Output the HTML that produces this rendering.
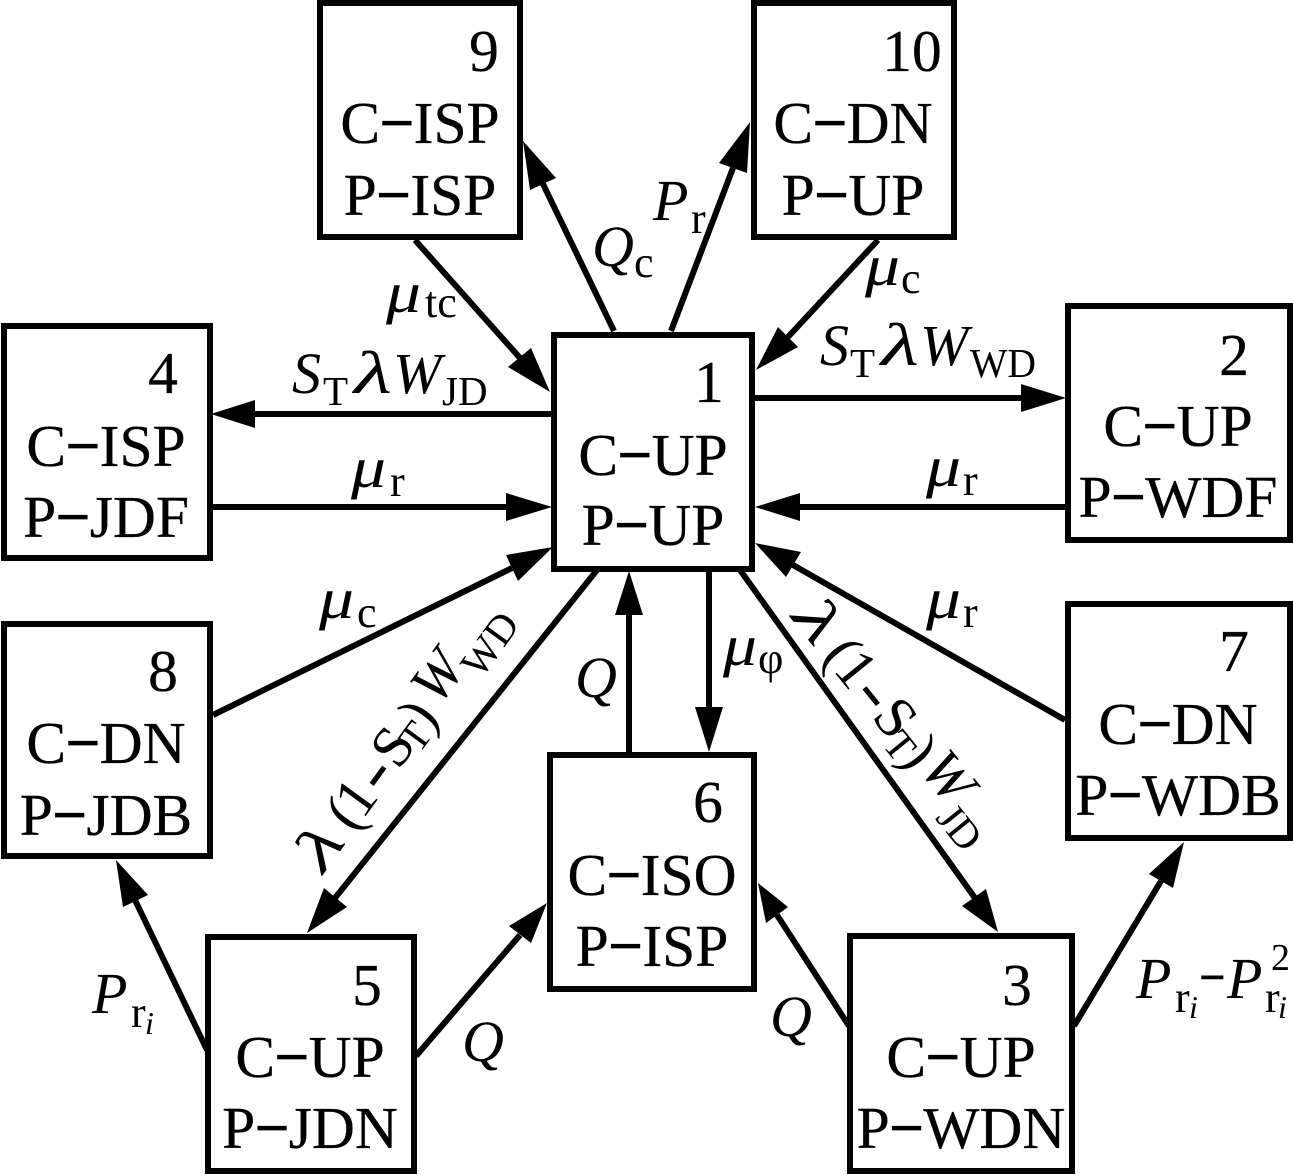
<!DOCTYPE html>
<html><head><meta charset="utf-8"><style>
html,body{margin:0;padding:0;background:#fff}
svg{display:block}
text{font-family:"Liberation Serif",serif;fill:#000}
.n{font-size:59.5px;text-anchor:middle;stroke:#000;stroke-width:.3}
.d{stroke:#000;stroke-width:1.6}
.m{font-size:58px;font-style:italic}
.l{font-size:60px;font-style:italic}
.s{font-size:44px}
.t{font-size:41px}
.i{font-size:32px;font-style:italic}
.r{font-size:58px}
rect{fill:none;stroke:#000;stroke-width:6}
line{stroke:#000;stroke-width:6}
polygon{fill:#000}
</style></head><body>
<svg width="1293" height="1175" viewBox="0 0 1293 1175" xmlns="http://www.w3.org/2000/svg">
<rect x="320" y="3" width="200" height="234"/>
<rect x="754" y="3" width="200" height="234"/>
<rect x="4" y="326" width="206" height="232"/>
<rect x="554" y="335" width="198" height="234"/>
<rect x="1068" y="306" width="222" height="234"/>
<rect x="4" y="624" width="206" height="232"/>
<rect x="1068" y="604" width="222" height="234"/>
<rect x="550" y="755" width="204" height="234"/>
<rect x="208" y="937" width="206" height="234"/>
<rect x="850" y="936" width="222" height="235"/>

<text class="n" x="484" y="71">9</text><text class="n" x="420" y="143">C<tspan class="d">−</tspan>ISP</text><text class="n" x="420" y="215">P<tspan class="d">−</tspan>ISP</text>
<text class="n" x="912" y="71">10</text><text class="n" x="853" y="143">C<tspan class="d">−</tspan>DN</text><text class="n" x="853" y="215">P<tspan class="d">−</tspan>UP</text>
<text class="n" x="163" y="393">4</text><text class="n" x="106" y="466">C<tspan class="d">−</tspan>ISP</text><text class="n" x="106" y="537">P<tspan class="d">−</tspan>JDF</text>
<text class="n" x="709" y="402">1</text><text class="n" x="653" y="475">C<tspan class="d">−</tspan>UP</text><text class="n" x="653" y="545">P<tspan class="d">−</tspan>UP</text>
<text class="n" x="1234" y="375">2</text><text class="n" x="1178" y="446">C<tspan class="d">−</tspan>UP</text><text class="n" x="1178" y="517">P<tspan class="d">−</tspan>WDF</text>
<text class="n" x="163" y="691">8</text><text class="n" x="106" y="763">C<tspan class="d">−</tspan>DN</text><text class="n" x="106" y="835">P<tspan class="d">−</tspan>JDB</text>
<text class="n" x="1234" y="671">7</text><text class="n" x="1178" y="744">C<tspan class="d">−</tspan>DN</text><text class="n" x="1178" y="815">P<tspan class="d">−</tspan>WDB</text>
<text class="n" x="708" y="822">6</text><text class="n" x="652" y="895">C<tspan class="d">−</tspan>ISO</text><text class="n" x="652" y="966">P<tspan class="d">−</tspan>ISP</text>
<text class="n" x="367" y="1005">5</text><text class="n" x="310" y="1077">C<tspan class="d">−</tspan>UP</text><text class="n" x="310" y="1148">P<tspan class="d">−</tspan>JDN</text>
<text class="n" x="1017" y="1005">3</text><text class="n" x="961" y="1077">C<tspan class="d">−</tspan>UP</text><text class="n" x="961" y="1148">P<tspan class="d">−</tspan>WDN</text>

<line x1="614" y1="331" x2="543" y2="184"/><polygon points="523,141 530,190 556,178"/>
<line x1="671" y1="331" x2="733" y2="168"/><polygon points="750,122 719,163 747,173"/>
<line x1="415" y1="240" x2="520" y2="358"/><polygon points="550,392 508,367 531,348"/>
<line x1="878" y1="240" x2="788" y2="337"/><polygon points="756,370 778,327 798,347"/>
<line x1="552" y1="414" x2="250" y2="414"/><polygon points="211,414 255,400 255,428"/>
<line x1="212" y1="507" x2="510" y2="507"/><polygon points="552,507 506,493 506,521"/>
<line x1="754" y1="398" x2="1025" y2="398"/><polygon points="1066,398 1021,384 1021,412"/>
<line x1="1066" y1="507" x2="795" y2="507"/><polygon points="755,507 800,493 800,521"/>
<line x1="1065" y1="720" x2="793" y2="565"/><polygon points="755,543 801,552 786,577"/>
<line x1="213" y1="715" x2="512" y2="568"/><polygon points="553,547 518,581 506,555"/>
<line x1="597" y1="570" x2="335" y2="898"/><polygon points="307,933 324,888 347,907"/>
<line x1="740" y1="570" x2="975" y2="898"/><polygon points="998,932 962,906 986,889"/>
<line x1="629" y1="753" x2="629" y2="610"/><polygon points="629,571 615,615 643,615"/>
<line x1="709" y1="570" x2="709" y2="712"/><polygon points="709,752 695,707 723,707"/>
<line x1="207" y1="1050" x2="135" y2="900"/><polygon points="116,860 148,895 123,907"/>
<line x1="416" y1="1056" x2="520" y2="935"/><polygon points="547,903 509,926 531,943"/>
<line x1="849" y1="1026" x2="777" y2="915"/><polygon points="758,883 788,907 766,923"/>
<line x1="1074" y1="1026" x2="1161" y2="881"/><polygon points="1184,842 1173,888 1149,874"/>

<text class="m" x="592" y="266">Q</text><text class="s" x="634" y="277">c</text>
<text class="m" x="653" y="220">P</text><text class="s" x="691" y="233">r</text>
<text class="m" x="386" y="312" textLength="35" lengthAdjust="spacingAndGlyphs">μ</text><text class="s" x="425" y="317">tc</text>
<text class="m" x="865" y="285" textLength="35" lengthAdjust="spacingAndGlyphs">μ</text><text class="s" x="901" y="293">c</text>

<text class="m" x="292" y="393">S</text><text class="t" x="323" y="405">T</text><text class="l" x="354" y="393" textLength="38" lengthAdjust="spacingAndGlyphs">λ</text><text class="m" x="393" y="393">W</text><text class="t" x="442" y="405">JD</text>
<text class="m" x="820" y="365">S</text><text class="t" x="850" y="377">T</text><text class="l" x="881" y="365" textLength="38" lengthAdjust="spacingAndGlyphs">λ</text><text class="m" x="920" y="365">W</text><text class="t" x="970" y="377" textLength="66" lengthAdjust="spacingAndGlyphs">WD</text>

<text class="m" x="351" y="487" textLength="35" lengthAdjust="spacingAndGlyphs">μ</text><text class="s" x="390" y="496">r</text>
<text class="m" x="926" y="486" textLength="35" lengthAdjust="spacingAndGlyphs">μ</text><text class="s" x="963" y="495">r</text>
<text class="m" x="926" y="618" textLength="35" lengthAdjust="spacingAndGlyphs">μ</text><text class="s" x="963" y="627">r</text>
<text class="m" x="319" y="618" textLength="35" lengthAdjust="spacingAndGlyphs">μ</text><text class="s" x="357" y="627">c</text>
<text class="m" x="723" y="665" textLength="34" lengthAdjust="spacingAndGlyphs">μ</text><text class="s" x="758" y="673">φ</text>

<text class="m" x="575" y="697">Q</text>
<text class="m" x="462" y="1061">Q</text>
<text class="m" x="770" y="1036">Q</text>

<text class="m" x="92" y="1013">P</text><text class="s" x="131" y="1027">r</text><text class="i" x="145" y="1034">i</text>
<text class="m" x="1136" y="998">P</text><text class="s" x="1175" y="1012">r</text><text class="i" x="1189" y="1018">i</text>
<text class="s d" x="1200" y="992">−</text>
<text class="m" x="1227" y="998">P</text><text class="s" x="1265" y="1012">r</text><text class="i" x="1278" y="1018">i</text>
<text class="s" x="1271" y="970" style="font-size:38px">2</text>

<g transform="translate(325,872) rotate(-54)">
<text class="l" x="-3" y="0" textLength="40" lengthAdjust="spacingAndGlyphs">λ</text>
<text class="r" x="48" y="0">(</text>
<text class="r" x="64" y="0">1</text>
<text class="r d" x="96" y="0" textLength="26" lengthAdjust="spacingAndGlyphs" style="stroke-width:.8">-</text>
<text class="r" x="125" y="0">S</text>
<text class="t" x="150" y="7">T</text>
<text class="r" x="173" y="2">)</text>
<text class="m" x="200" y="-5">W</text>
<text class="t" x="247" y="13">WD</text>
</g>
<g transform="translate(792,620) rotate(51)">
<text class="l" x="-3" y="0" textLength="40" lengthAdjust="spacingAndGlyphs">λ</text>
<text class="r" x="47" y="0">(</text>
<text class="r" x="64" y="0">1</text>
<text class="r d" x="96" y="0" textLength="26" lengthAdjust="spacingAndGlyphs" style="stroke-width:.8">-</text>
<text class="r" x="125" y="0">S</text>
<text class="t" x="153" y="9">T</text>
<text class="r" x="174" y="3">)</text>
<text class="m" x="196" y="-4">W</text>
<text class="t" x="244" y="14">JD</text>
</g>
</svg>
</body></html>
